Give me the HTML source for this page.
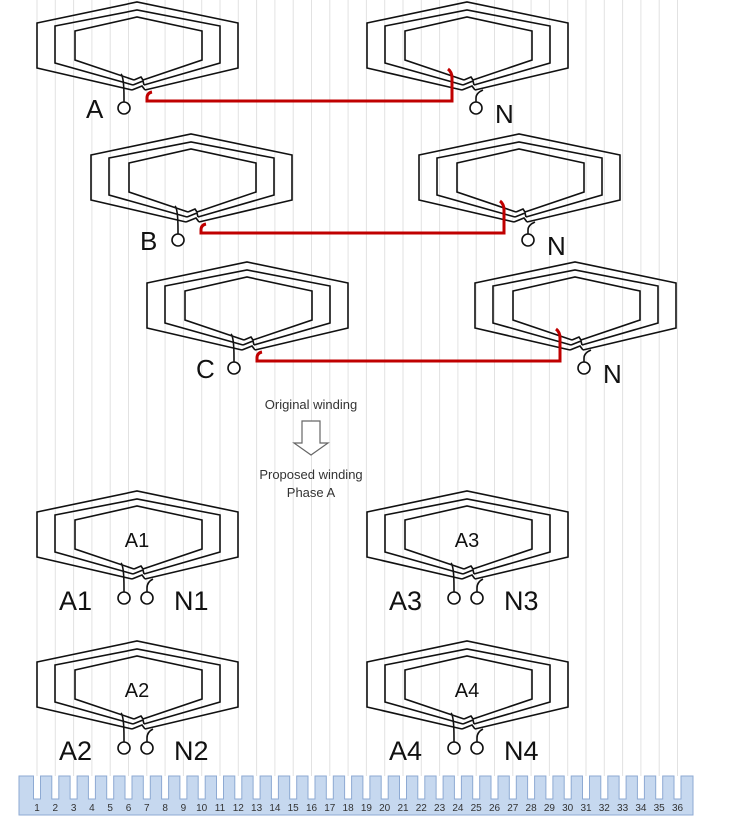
<!DOCTYPE html>
<html><head><meta charset="utf-8"><style>
html,body{margin:0;padding:0;background:#fff}
svg{display:block;font-family:"Liberation Sans",sans-serif}
</style></head><body>
<svg id="s" width="749" height="835" viewBox="0 0 749 835">
<g id="grid"></g>
<g id="coils"></g>
<g id="wires"></g>
<text x="311" y="409" font-size="13" text-anchor="middle" fill="#333">Original winding</text>
<path d="M302 421 H320 V443 H328 L311 455 L294 443 H302 Z" fill="#fff" stroke="#666" stroke-width="1.2"/>
<text x="311" y="479" font-size="13" text-anchor="middle" fill="#333">Proposed winding</text>
<text x="311" y="497" font-size="13" text-anchor="middle" fill="#333">Phase A</text>
<g id="stator"></g>
</svg>
<script>
const NS="http://www.w3.org/2000/svg";
function mk(tag,attrs,parent){const e=document.createElementNS(NS,tag);for(const k in attrs)e.setAttribute(k,attrs[k]);parent.appendChild(e);return e;}
const slotLabels=Array.from({length:36},(_,i)=>String(i+1));
const coilLefts=[37,367,91,419,147,475,37,367,37,367];
const coilTops=[2,2,134,134,262,262,491,491,641,641];
const coilNames=["coil-a","coil-a-n","coil-b","coil-b-n","coil-c","coil-c-n","coil-a1","coil-a3","coil-a2","coil-a4"];
const innerLabels=["","","","","","","A1","A3","A2","A4"];

const grid=document.getElementById('grid');
const pitch=18.3, x0=37;
slotLabels.forEach((l,i)=>{
  const ln=mk('line',{x1:x0+i*pitch,y1:0,x2:x0+i*pitch,y2:776,stroke:'#e2e2e2','stroke-width':1},grid);
  
  
});

const coils=document.getElementById('coils');
function coil(L,T,name,label){
  const g=mk('g',{transform:`translate(${L},${T})`,fill:'none',stroke:'#111','stroke-width':1.6},coils);
  
  
  mk('polyline',{points:'95,88 0,66 0,21 100,0 201,21 201,66 108,88'},g);
  mk('polyline',{points:'96,83 18,61 18,24 100,8 183,24 183,61 107,83'},g);
  mk('polyline',{points:'97,78 38,58 38,29 100,15 165,29 165,58 106,78'},g);
  mk('polyline',{points:'95,88 105,84 108,88'},g);
  mk('polyline',{points:'96,83 106,79 107,83'},g);
  mk('polyline',{points:'97,78 104,75 106,78'},g);
  if(label){
    const t=mk('text',{x:100,y:56,'font-size':20,'text-anchor':'middle',fill:'#111',stroke:'none'},g);
    t.textContent=label;
    
    
  }
  return g;
}
coilLefts.forEach((L,i)=>coil(L,coilTops[i],coilNames[i],innerLabels[i]));

function term(x,y,fromX,fromY,name){
  const g=mk('g',{fill:'none',stroke:'#111','stroke-width':1.6},coils);
  
  
  mk('path',{d:`M${fromX} ${fromY} Q${x} ${fromY+3} ${x} ${y-10} V${y-6}`},g);
  mk('circle',{cx:x,cy:y,r:6,fill:'#fff'},g);
}
function lbl(x,y,txt,size,name){
  const t=mk('text',{x:x,y:y,'font-size':size,fill:'#111'},coils);
  t.textContent=txt;
  
  
}
// original winding terminals
[[0,'A','terminal-a'],[2,'B','terminal-b'],[4,'C','terminal-c']].forEach(([i,l,n])=>{
  const L=coilLefts[i],T=coilTops[i];
  term(L+87,T+106,L+84,T+72,n);
  lbl(L+49,T+116,l,26,n+'-label');
});
[1,3,5].forEach(i=>{
  const L=coilLefts[i],T=coilTops[i];
  term(L+109,T+106,L+116,T+88,'terminal-n');
  lbl(L+128,T+121,'N',26,'terminal-n-label');
});
// proposed winding terminals
[[6,'A1','N1'],[7,'A3','N3'],[8,'A2','N2'],[9,'A4','N4']].forEach(([i,a,n])=>{
  const L=coilLefts[i],T=coilTops[i];
  term(L+87,T+107,L+84,T+72,'terminal-'+a.toLowerCase());
  term(L+110,T+107,L+116,T+88,'terminal-'+n.toLowerCase());
  lbl(L+22,T+119,a,27,'label-'+a.toLowerCase());
  lbl(L+137,T+119,n,27,'label-'+n.toLowerCase());
});

// red series connections
const wires=document.getElementById('wires');
[[0,1],[2,3],[4,5]].forEach(([a,b])=>{
  const La=coilLefts[a],Ta=coilTops[a],Lb=coilLefts[b];
  const p=mk('path',{d:`M${La+115} ${Ta+90} Q${La+110} ${Ta+91} ${La+110} ${Ta+96} V${Ta+99} H${Lb+85} V${Ta+76} Q${Lb+85} ${Ta+70} ${Lb+81} ${Ta+67}`,fill:'none',stroke:'#c00000','stroke-width':3},wires);
  
  
});

// stator strip
const st=document.getElementById('stator');
let d='M19 815 V776 ';
slotLabels.forEach((l,i)=>{
  const c=x0+i*pitch;
  d+=`H${c-3.5} V799 H${c+3.5} V776 `;
});
d+='H693 V815 Z';
const body=mk('path',{d:d,fill:'#c6d8ef',stroke:'#8eaad3','stroke-width':1},st);


slotLabels.forEach((l,i)=>{
  const t=mk('text',{x:x0+i*pitch,y:811,'font-size':10,'text-anchor':'middle',fill:'#333'},st);
  t.textContent=l;
  
  
});
</script>
</body></html>
